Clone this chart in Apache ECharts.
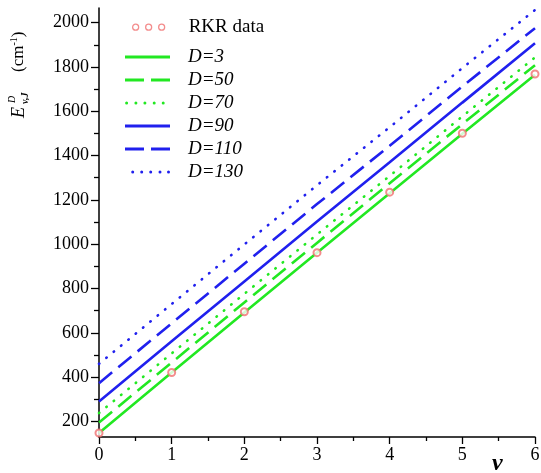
<!DOCTYPE html>
<html>
<head>
<meta charset="utf-8">
<script src="https://cdn.jsdelivr.net/npm/echarts@6/dist/echarts.min.js"></script>
<style>
  html, body { margin: 0; padding: 0; background: #fff; }
  #chart1 { width: 541px; height: 473px; }
</style>
</head>
<body>
<div id="chart1"></div>
<script>
    // vibrational quantum number v
    var vLevels = [0, 1, 2, 3, 4, 5, 6];
    // RKR data points (cm-1)
    var rkrData = [148, 421, 695, 962, 1235, 1501, 1768];
    // model curves for several D values
    var d3 = [148, 421, 692, 961, 1230, 1498, 1765];
    var d50 = [195, 466, 737, 1006, 1275, 1542, 1808];
    var d70 = [238, 507, 776, 1044, 1308, 1577, 1843];
    var d90 = [290, 562, 832, 1102, 1370, 1639, 1907];
    var d110 = [373, 643, 912, 1181, 1444, 1712, 1975];
    var d130 = [460, 730, 999, 1266, 1528, 1795, 2057];
    // y axis ticks
    var yMajorTicks = [200, 400, 600, 800, 1000, 1200, 1400, 1600, 1800, 2000];
    var yMinorTicks = [300, 500, 700, 900, 1100, 1300, 1500, 1700, 1900];

    var green = '#22e822';
    var blue = '#2020ee';
    var serif = 'Liberation Serif';

    // legend icons (drawn as paths so dashes / dots show like the original)
    var iconSolid = 'path://M0,0H45V3H0Z';
    var iconDash = 'path://M0,0H19V3H0ZM26,0H45V3H26Z';
    var iconDotA = 'path://M0.2,1.5a1.5,1.5 0 1,0 3,0a1.5,1.5 0 1,0 -3,0M9.5,1.5a1.5,1.5 0 1,0 3,0a1.5,1.5 0 1,0 -3,0' +
        'M18.5,1.5a1.5,1.5 0 1,0 3,0a1.5,1.5 0 1,0 -3,0M27.8,1.5a1.5,1.5 0 1,0 3,0a1.5,1.5 0 1,0 -3,0' +
        'M36.8,1.5a1.5,1.5 0 1,0 3,0a1.5,1.5 0 1,0 -3,0M44.95,0H45V0.02H44.95Z';
    var iconDotB = 'path://M0,0H0.05V0.02H0ZM6.2,1.5a1.5,1.5 0 1,0 3,0a1.5,1.5 0 1,0 -3,0M15.2,1.5a1.5,1.5 0 1,0 3,0a1.5,1.5 0 1,0 -3,0' +
        'M24.2,1.5a1.5,1.5 0 1,0 3,0a1.5,1.5 0 1,0 -3,0M33.5,1.5a1.5,1.5 0 1,0 3,0a1.5,1.5 0 1,0 -3,0' +
        'M42,1.5a1.5,1.5 0 1,0 3,0a1.5,1.5 0 1,0 -3,0';

    function pairs(vals) {
        return vals.map(function (y, i) { return [vLevels[i], y]; });
    }

    function lineSeries(name, vals, color, dash, cap) {
        return {
            name: name,
            type: 'line',
            data: pairs(vals),
            symbol: 'none',
            lineStyle: { color: color, width: 2.6, type: dash, cap: cap || 'butt' },
            itemStyle: { color: color },
            z: 2
        };
    }

    function legendItem(name, icon, color) {
        return { name: name, icon: icon, itemStyle: { color: color, borderWidth: 0 } };
    }

    var option = {
        animation: false,
        grid: { left: 99, right: 6, top: 8, bottom: 36, outerBoundsMode: 'none' },
        legend: [{
            left: 127, top: 10.7, orient: 'vertical',
            itemWidth: 32, itemHeight: 7, itemGap: 0,
            textStyle: { fontFamily: serif, fontSize: 19, color: '#000', lineHeight: 23, padding: [0, 0, 0, 19] },
            data: [{
                name: 'RKR data',
                icon: 'path://M0,3a3,3 0 1,0 6,0a3,3 0 1,0 -6,0M13,3a3,3 0 1,0 6,0a3,3 0 1,0 -6,0M26,3a3,3 0 1,0 6,0a3,3 0 1,0 -6,0',
                itemStyle: { color: 'rgba(0,0,0,0)', borderColor: '#f07070', borderWidth: 1.3 }
            }]
        }, {
            left: 120, top: 40.5, orient: 'vertical',
            itemWidth: 45, itemHeight: 3, itemGap: 0,
            textStyle: { fontFamily: serif, fontSize: 19, fontStyle: 'italic', color: '#000', lineHeight: 23, padding: [0, 0, 0, 13] },
            data: [
                legendItem('D=3', iconSolid, green),
                legendItem('D=50', iconDash, green),
                legendItem('D=70', iconDotA, green),
                legendItem('D=90', iconSolid, blue),
                legendItem('D=110', iconDash, blue),
                legendItem('D=130', iconDotB, blue)
            ]
        }],
        xAxis: {
            type: 'value',
            min: 0, max: 6, interval: 1,
            axisLine: { lineStyle: { color: '#000', width: 1.5 } },
            axisTick: { length: 7, lineStyle: { color: '#000', width: 1.3 } },
            minorTick: { show: true, splitNumber: 2, length: 4, lineStyle: { color: '#000', width: 1.3 } },
            axisLabel: { fontFamily: serif, fontSize: 18, color: '#000', margin: 9 },
            splitLine: { show: false }
        },
        yAxis: [{
            type: 'value',
            position: 'left',
            min: 130, max: 2066,
            axisLine: { show: true, lineStyle: { color: '#000', width: 1.5 } },
            axisTick: { show: true, customValues: yMajorTicks, length: 8, lineStyle: { color: '#000', width: 1.3 } },
            axisLabel: {
                customValues: yMajorTicks, fontFamily: serif, fontSize: 18, color: '#000', margin: 10,
                formatter: function (val) { return String(val); }
            },
            splitLine: { show: false }
        }, {
            // minor ticks at the odd hundreds
            type: 'value',
            position: 'left',
            offset: 0,
            min: 130, max: 2066,
            axisLine: { show: false },
            axisTick: { show: true, customValues: yMinorTicks, length: 5, lineStyle: { color: '#000', width: 1.3 } },
            axisLabel: { show: false },
            splitLine: { show: false }
        }],
        graphic: [{
            type: 'text', x: 10, y: 118, rotation: Math.PI / 2,
            style: { text: 'E', font: 'italic 18px "Liberation Serif"', fill: '#000' }
        }, {
            type: 'text', x: 7, y: 103, rotation: Math.PI / 2,
            style: { text: 'D', font: 'italic 10px "Liberation Serif"', fill: '#000' }
        }, {
            type: 'text', x: 20, y: 104, rotation: Math.PI / 2,
            style: { text: 'v,J', font: 'italic bold 10px "Liberation Serif"', fill: '#000' }
        }, {
            type: 'text', x: 9, y: 72, rotation: Math.PI / 2,
            style: {
                text: '(cm{s|-1})',
                font: '17px "Liberation Serif"', fill: '#000',
                rich: { s: { fontSize: 10, fontFamily: serif, padding: [0, 0, 9, 0] } }
            }
        }, {
            type: 'text', x: 492, y: 452,
            style: { text: 'v', font: 'italic bold 24px "Liberation Serif"', fill: '#000' }
        }],
        series: [
            lineSeries('D=3', d3, green, 'solid'),
            lineSeries('D=50', d50, green, [17, 8]),
            lineSeries('D=70', d70, green, [0.5, 9], 'round'),
            lineSeries('D=90', d90, blue, 'solid'),
            lineSeries('D=110', d110, blue, [17, 8]),
            lineSeries('D=130', d130, blue, [0.5, 9], 'round'),
            {
                name: 'RKR data',
                type: 'scatter',
                data: pairs(rkrData),
                symbol: 'emptyCircle',
                symbolSize: 7,
                itemStyle: { color: '#f07070', borderColor: '#f07070', borderWidth: 1.3 },
                z: 5
            }
        ]
    };

    var myChart = echarts.init(document.getElementById('chart1'));
    myChart.setOption(option);
</script>
</body>
</html>
